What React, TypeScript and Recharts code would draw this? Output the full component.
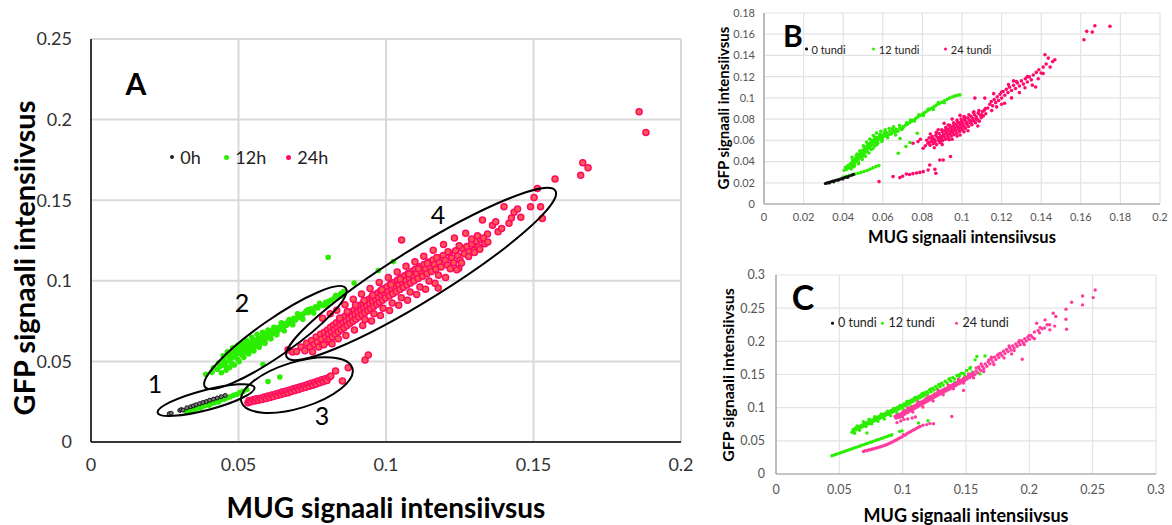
import React from 'react';
import { ScatterChart, Scatter, XAxis, YAxis, CartesianGrid } from 'recharts';

// ---------------- Panel A data ----------------
const A_0h = [[0.0265,0.0175],[0.0272,0.0178],[0.0301,0.0196],[0.0306,0.0201],[0.0312,0.0198],[0.0325,0.0212],[0.0338,0.0219],[0.0347,0.0224],[0.0356,0.0231],[0.0368,0.0238],[0.0379,0.0245],[0.0391,0.0251],[0.0402,0.0259],[0.0415,0.0266],[0.0428,0.0273],[0.0441,0.0281],[0.0455,0.0289]];

const A_12h = [[0.0325,0.0186],[0.0333,0.0195],[0.0341,0.0192],[0.0348,0.0203],[0.0356,0.0206],[0.0362,0.0214],[0.0371,0.0211],[0.0378,0.0222],[0.0386,0.0226],[0.0394,0.0232],[0.0401,0.0229],[0.0409,0.0241],[0.0418,0.0244],[0.0426,0.0252],[0.0433,0.0249],[0.0441,0.0262],[0.0452,0.0266],[0.0461,0.0275],[0.0472,0.0281],[0.0483,0.029],[0.0494,0.0296],[0.0505,0.0306],[0.0516,0.0314],[0.0528,0.0325],
[0.041,0.0432],[0.0415,0.0461],[0.0428,0.0452],[0.0433,0.0489],[0.0437,0.0468],[0.0446,0.0478],[0.0449,0.0512],[0.0453,0.0495],[0.0457,0.047],[0.0465,0.0531],[0.0468,0.0502],[0.0471,0.0548],[0.0474,0.0519],[0.0477,0.049],[0.0484,0.056],[0.0487,0.0528],[0.0491,0.0545],[0.0494,0.0572],[0.0497,0.0515],[0.0503,0.0551],[0.0506,0.0584],[0.0509,0.0566],[0.0513,0.0538],[0.0516,0.0592],[0.0519,0.056],[0.0523,0.0575],[0.0526,0.0604],[0.0529,0.0556],[0.0533,0.0588],[0.0537,0.0612],[0.0539,0.057],[0.0543,0.0596],[0.0547,0.0625],[0.0551,0.0581],[0.0554,0.061],[0.0558,0.0633],[0.0561,0.0598],[0.0565,0.0617],[0.0569,0.0644],[0.0573,0.0609],[0.0577,0.0633],[0.0581,0.0653],[0.0585,0.0628],[0.0589,0.066],[0.0593,0.0641],[0.0597,0.0672],[0.0603,0.0656],[0.0607,0.0684],[0.0612,0.0667],[0.0616,0.0693],[0.0622,0.0679],[0.0627,0.0704],[0.0632,0.0688],[0.0636,0.0712],[0.0642,0.0701],[0.0647,0.0726],[0.0652,0.0709],[0.0657,0.0733],[0.0663,0.0724],[0.0668,0.0745],[0.0674,0.0736],[0.0681,0.0748],[0.0687,0.0768],[0.0693,0.0757],[0.0701,0.0773],[0.0707,0.0791],[0.0714,0.0779],[0.0722,0.0797],[0.0729,0.0812],[0.0737,0.0803],[0.0745,0.0826],[0.0752,0.0818],[0.0761,0.0839],[0.0769,0.0832],[0.0778,0.0851],[0.0787,0.0847],[0.0796,0.0866],[0.0806,0.0873],[0.0815,0.0881],[0.0826,0.0895],[0.0838,0.0907],[0.0847,0.0921],[0.0856,0.0934],
[0.0804,0.1146],[0.0892,0.0986],[0.0974,0.1064],[0.1025,0.1119],[0.06,0.0375],[0.064,0.0403],[0.0583,0.048],[0.0389,0.042]];

const A_12h_spread = [[0.0442,0.043],[0.0448,0.0535],[0.0458,0.0445],[0.0462,0.056],[0.047,0.0462],[0.048,0.0585],[0.0486,0.0478],[0.0498,0.06],[0.0502,0.05],[0.0512,0.0615],[0.0518,0.0525],[0.0528,0.063],[0.0535,0.0548],[0.0545,0.065],[0.0552,0.0565],[0.0563,0.0668],[0.057,0.0588],[0.0582,0.068],[0.059,0.0612],[0.06,0.0695],[0.061,0.064],[0.062,0.0712],[0.063,0.0665],[0.0645,0.074],[0.0655,0.069],[0.0672,0.076],[0.0684,0.0728],[0.07,0.0795],[0.0718,0.0762],[0.0735,0.082],[0.0755,0.08],[0.0775,0.086],[0.08,0.085],[0.083,0.091],[0.085,0.0905]];

const A_24h = [[0.0532,0.0243],[0.0536,0.0258],[0.0542,0.0249],[0.0549,0.0262],[0.0555,0.0254],[0.0561,0.0268],[0.0568,0.0259],[0.0574,0.0272],[0.058,0.0264],[0.0587,0.0279],[0.0594,0.027],[0.06,0.0285],[0.0607,0.0276],[0.0613,0.0291],[0.0619,0.0283],[0.0626,0.0298],[0.0632,0.0288],[0.0638,0.0304],[0.0644,0.0294],[0.065,0.0311],[0.0656,0.0301],[0.0662,0.0317],[0.0668,0.0306],[0.0674,0.0322],[0.068,0.0313],[0.0686,0.033],[0.0692,0.0319],[0.0698,0.0336],[0.0704,0.0326],[0.071,0.0343],[0.0716,0.0333],[0.0722,0.0349],[0.0728,0.0339],[0.0734,0.0357],[0.074,0.0346],[0.0746,0.0364],[0.0752,0.0352],[0.0758,0.037],[0.0764,0.036],[0.077,0.0378],[0.0776,0.0367],[0.0782,0.0386],[0.0788,0.0375],[0.0794,0.0393],[0.08,0.0381],[0.0807,0.0402],[0.0813,0.041],[0.0829,0.044],[0.0872,0.0461],[0.0852,0.0379],[0.0929,0.0508],[0.094,0.0539],
[0.0668,0.0572],[0.0683,0.0558],[0.0697,0.0561],[0.0712,0.059],[0.0725,0.0566],[0.0731,0.0612],[0.0742,0.0588],[0.0748,0.063],[0.0751,0.056],[0.0757,0.0605],[0.0763,0.0652],[0.0768,0.0621],[0.0772,0.059],[0.0778,0.0668],[0.0781,0.0637],[0.0786,0.0605],[0.0791,0.0681],[0.0795,0.0652],[0.0798,0.062],
[0.0802,0.0695],[0.0805,0.0668],[0.0808,0.0638],[0.0812,0.0712],[0.0815,0.0683],[0.0818,0.0652],[0.0822,0.0725],[0.0825,0.0697],[0.0828,0.0668],[0.0832,0.074],[0.0835,0.0711],[0.0838,0.0683],[0.0842,0.0752],[0.0845,0.0724],[0.0848,0.0697],[0.0852,0.0768],[0.0855,0.0739],[0.0858,0.0709],[0.0862,0.0781],[0.0865,0.0751],[0.0868,0.0722],[0.0872,0.0795],[0.0875,0.0765],[0.0878,0.0737],[0.0882,0.0806],[0.0885,0.0778],[0.0888,0.0749],[0.0892,0.0819],[0.0895,0.0791],[0.0898,0.0762],
[0.0902,0.0834],[0.0905,0.0805],[0.0908,0.0776],[0.0912,0.0847],[0.0915,0.0818],[0.0918,0.0789],[0.0922,0.0861],[0.0925,0.0832],[0.0928,0.0802],[0.0932,0.0873],[0.0935,0.0844],[0.0938,0.0815],[0.0942,0.0886],[0.0945,0.0857],[0.0948,0.0828],[0.0952,0.0899],[0.0955,0.087],[0.0958,0.0841],[0.0962,0.0913],[0.0965,0.0884],[0.0968,0.0853],[0.0972,0.0925],[0.0975,0.0896],[0.0978,0.0867],[0.0982,0.0938],[0.0985,0.0909],[0.0988,0.088],[0.0992,0.0951],[0.0995,0.0921],[0.0998,0.0893],
[0.1003,0.0962],[0.1007,0.0934],[0.1011,0.0905],[0.1015,0.0978],[0.1019,0.0948],[0.1023,0.0919],[0.1027,0.099],[0.1031,0.0962],[0.1035,0.0932],[0.1039,0.1005],[0.1043,0.0975],[0.1047,0.0946],[0.1051,0.1019],[0.1055,0.0989],[0.1059,0.096],[0.1063,0.1031],[0.1067,0.1002],[0.1071,0.0974],[0.1075,0.1046],[0.1079,0.1016],[0.1083,0.0987],[0.1087,0.1058],[0.1091,0.103],[0.1095,0.1001],[0.1099,0.1071],
[0.1104,0.1043],[0.1109,0.1015],[0.1114,0.1087],[0.1119,0.1058],[0.1124,0.1029],[0.1129,0.1101],[0.1134,0.1072],[0.1139,0.1044],[0.1144,0.1116],[0.1149,0.1086],[0.1154,0.1057],[0.1159,0.1129],[0.1164,0.11],[0.1169,0.1072],[0.1175,0.1143],[0.1177,0.0955],[0.1181,0.1113],[0.1187,0.1085],[0.1194,0.1157],
[0.1201,0.1127],[0.1208,0.1098],[0.1215,0.1172],[0.1222,0.1141],[0.1229,0.1112],[0.1236,0.1186],[0.1243,0.1155],[0.1247,0.1078],[0.1251,0.1127],[0.1258,0.12],[0.1266,0.1168],[0.1274,0.1213],[0.1282,0.1182],[0.129,0.1228],[0.1298,0.119],[0.1306,0.1245],[0.1313,0.1212],[0.1321,0.1258],
[0.1327,0.1377],[0.1335,0.123],[0.1344,0.129],[0.1361,0.1344],[0.1372,0.1366],[0.138,0.1305],[0.1392,0.1325],[0.14,0.1459],[0.1417,0.1357],[0.1425,0.139],[0.1434,0.1425],[0.1446,0.1446],[0.1457,0.1394],[0.149,0.1459],[0.1502,0.1517],[0.1513,0.1572],[0.1524,0.1459],[0.153,0.1387],
[0.1053,0.1253],[0.1573,0.1632],[0.166,0.1655],[0.1667,0.1733],[0.1685,0.1702],[0.1858,0.2049],[0.1881,0.192]];

const A_24h_spread = [[0.0785,0.0767],[0.0789,0.0603],[0.0811,0.0795],[0.0817,0.061],[0.0833,0.0818],[0.0838,0.064],[0.0843,0.077],[0.0861,0.0852],[0.0864,0.0661],[0.0869,0.081],[0.0889,0.0886],[0.0893,0.0695],[0.0897,0.085],[0.0917,0.0918],[0.0921,0.0722],[0.0926,0.0878],[0.0929,0.076],[0.0946,0.0952],[0.0951,0.075],[0.0955,0.091],[0.0959,0.0795],[0.0977,0.099],[0.0981,0.0785],[0.0986,0.0945],[0.099,0.083],[0.1008,0.102],[0.1012,0.0815],[0.1017,0.0975],[0.1021,0.0862],[0.1038,0.1055],[0.1043,0.0848],[0.1048,0.101],[0.1052,0.0895],[0.1068,0.109],[0.1073,0.088],[0.1078,0.1042],[0.1082,0.093],[0.1098,0.1118],[0.1104,0.0915],[0.111,0.1075],[0.1115,0.0962],[0.1128,0.1152],[0.1134,0.0948],[0.114,0.1108],[0.1146,0.0998],[0.116,0.119],[0.1166,0.0985],[0.1172,0.1145],[0.1178,0.1035],[0.1195,0.1225],[0.1202,0.102],[0.121,0.118],[0.1218,0.1075],[0.1232,0.1265],[0.124,0.1068],[0.1248,0.1218],[0.1256,0.111],[0.127,0.1295],[0.128,0.115],[0.129,0.126],[0.13,0.1175],[0.131,0.128],[0.1318,0.1195],[0.133,0.1265],[0.1345,0.124]];

const A_ellipseCenters = [[0.039,0.026],[0.0625,0.0648],[0.0698,0.0353],[0.1119,0.1042]];
const A_groupLabels = ['1','2','3','4'];
const A_groupLabelAt = [[0.0217,0.0366],[0.0512,0.0868],[0.0783,0.0167],[0.1176,0.1414]];

// ---------------- Panel B data ----------------
const B_0 = [[0.031,0.0193],[0.0316,0.0197],[0.0322,0.02],[0.0328,0.0204],[0.033,0.0198],[0.0335,0.0207],[0.0341,0.0212],[0.0348,0.0215],[0.0352,0.0209],[0.0355,0.0219],[0.0362,0.0223],[0.0369,0.0226],[0.0375,0.0224],[0.0377,0.0231],[0.0385,0.0235],[0.0393,0.024],[0.0398,0.0236],[0.0401,0.0245],[0.041,0.0251],[0.042,0.0257],[0.0422,0.025],[0.0431,0.0264],[0.0443,0.0272],[0.0452,0.0279]];

const B_12 = [[0.0405,0.0318],[0.0412,0.0345],[0.0418,0.0328],[0.0424,0.0362],[0.043,0.0341],[0.0436,0.0379],[0.0441,0.0357],[0.0446,0.0395],[0.045,0.0372],[0.0455,0.041],[0.0459,0.0388],[0.0463,0.0428],[0.0467,0.0405],[0.0471,0.0445],[0.0475,0.0421],[0.0479,0.0462],[0.0483,0.0438],[0.0487,0.0478],[0.0491,0.0455],[0.0495,0.0495],[0.0499,0.047],[0.0503,0.0511],[0.0507,0.0486],[0.0511,0.0527],[0.0515,0.0501],[0.0519,0.0543],[0.0523,0.0518],[0.0527,0.0558],[0.0531,0.0533],[0.0535,0.0572],[0.0539,0.0549],[0.0544,0.0586],[0.0548,0.0563],[0.0553,0.06],[0.0557,0.0578],[0.0562,0.0613],[0.0567,0.0591],[0.0572,0.0626],[0.0577,0.0604],[0.0583,0.0638],[0.0588,0.0617],[0.0594,0.0649],[0.06,0.063],[0.0607,0.066],[0.0614,0.0641],[0.0621,0.0672],[0.0628,0.0653],[0.0636,0.0683],[0.0644,0.0664],[0.0652,0.0694],[0.066,0.0676],[0.0668,0.0705],[0.0677,0.0689],[0.0686,0.0716],[0.0695,0.0702],[0.0704,0.0729],[0.0714,0.0741],[0.0724,0.0752],[0.0734,0.0765],[0.0744,0.0778],[0.0755,0.0792],[0.0766,0.0805],[0.0777,0.0819],[0.0788,0.0833],[0.08,0.0848],[0.0812,0.0862],[0.0824,0.0877],[0.0836,0.0891],[0.0848,0.0905],[0.086,0.0919],[0.0872,0.0932],[0.0885,0.0946],[0.0898,0.0959],[0.0911,0.0972],[0.0924,0.0985],[0.0937,0.0998],[0.095,0.1009],[0.0963,0.1017],[0.0976,0.1024],[0.0989,0.1028],
[0.0445,0.044],[0.0452,0.035],[0.047,0.047],[0.0478,0.038],[0.049,0.05],[0.0496,0.042],[0.0508,0.0535],[0.0512,0.045],[0.0525,0.057],[0.053,0.048],[0.0542,0.06],[0.055,0.052],[0.056,0.063],[0.057,0.056],[0.0585,0.0655],[0.0595,0.059],[0.061,0.0675],[0.0625,0.0625],[0.065,0.071],[0.0665,0.065],
[0.04,0.0255],[0.0415,0.0262],[0.043,0.0268],[0.0445,0.0276],[0.046,0.0283],[0.0475,0.029],[0.049,0.0298],[0.0505,0.0306],[0.052,0.0316],[0.0535,0.0327],[0.055,0.034],[0.0565,0.0352],[0.058,0.0362],
[0.0678,0.0478],[0.0717,0.0542],[0.0737,0.0579],[0.0687,0.0617],[0.0774,0.0667]];

const B_12_spread = [[0.044,0.033],[0.0448,0.0415],[0.0458,0.036],[0.0466,0.0455],[0.0476,0.04],[0.0484,0.05],[0.0494,0.044],[0.0502,0.0548],[0.0506,0.046],[0.0518,0.0585],[0.0522,0.049],[0.0534,0.0612],[0.054,0.0515],[0.0552,0.0645],[0.0558,0.0545],[0.0568,0.0668],[0.0575,0.0575],[0.059,0.0685],[0.0598,0.0605],[0.0612,0.07],[0.062,0.064],[0.0632,0.0712],[0.064,0.066],[0.0655,0.0728],[0.067,0.0685],[0.0685,0.074],[0.07,0.0712],[0.072,0.0765],[0.074,0.079],[0.076,0.0782],[0.0782,0.084],[0.0805,0.0835],[0.083,0.0895],[0.0855,0.089],[0.088,0.0955],[0.091,0.0955]];

const B_24 = [[0.0815,0.0548],[0.0822,0.0601],[0.0828,0.0572],[0.0834,0.0623],[0.0839,0.0554],[0.0845,0.059],[0.085,0.0635],[0.0855,0.0568],[0.0859,0.0612],[0.0864,0.0585],[0.0868,0.0647],[0.0872,0.056],[0.0876,0.0628],[0.088,0.06],[0.0884,0.0664],[0.0888,0.0579],[0.0892,0.0641],[0.0896,0.0617],[0.09,0.0681],[0.0903,0.0598],[0.0907,0.0658],[0.0911,0.0632],[0.0914,0.0694],[0.0918,0.0611],[0.0921,0.0671],[0.0925,0.0645],[0.0928,0.0707],[0.0932,0.0625],[0.0935,0.0688],[0.0939,0.066],[0.0942,0.0722],[0.0946,0.064],[0.0949,0.07],[0.0953,0.0675],[0.0956,0.0737],[0.096,0.0654],[0.0963,0.0716],[0.0967,0.069],[0.097,0.0751],[0.0974,0.0668],[0.0977,0.0731],[0.0981,0.0705],[0.0984,0.0766],[0.0988,0.0684],[0.0991,0.0746],[0.0995,0.0719],[0.0998,0.0781],[0.1002,0.0699],[0.1005,0.076],[0.1009,0.0734],[0.1013,0.0795],[0.1017,0.0715],[0.1021,0.0775],[0.1025,0.075],[0.1029,0.0811],[0.1033,0.0731],[0.1037,0.079],[0.1041,0.0766],[0.1045,0.0826],[0.105,0.0748],[0.1054,0.0806],[0.1058,0.0782],[0.1063,0.0841],[0.1068,0.0765],[0.1072,0.0822],[0.1077,0.0798],[0.1082,0.0856],[0.1087,0.0781],[0.1092,0.0838],[0.1097,0.0813],[0.1103,0.0871],[0.1108,0.083],[0.1114,0.0885],[0.112,0.085],
[0.088,0.07],[0.09,0.056],[0.093,0.0745],[0.095,0.061],[0.0975,0.079],[0.099,0.065],[0.101,0.0825],[0.103,0.069],[0.106,0.087],[0.108,0.0735],[0.086,0.053],[0.084,0.066],[0.1,0.0765],[0.096,0.072],[0.092,0.068],[0.1065,0.0998],[0.1115,0.0998],
[0.113,0.0905],[0.114,0.094],[0.1148,0.0965],[0.1155,0.0925],[0.1163,0.0985],[0.117,0.0955],[0.1178,0.101],[0.1185,0.0975],[0.1192,0.1035],[0.12,0.0998],[0.1208,0.106],[0.1216,0.1025],[0.1224,0.1082],[0.1232,0.105],[0.124,0.11],[0.125,0.107],[0.126,0.1118],[0.127,0.1088],[0.128,0.114],[0.129,0.1112],[0.13,0.116],[0.131,0.113],[0.132,0.118],[0.133,0.115],[0.134,0.1198],[0.135,0.117],[0.136,0.1215],[0.1372,0.1102],[0.1375,0.124],[0.1388,0.1265],[0.14,0.1235],[0.141,0.129],[0.1419,0.1407],[0.1425,0.132],[0.1436,0.1375],[0.1445,0.129],[0.1458,0.1342],[0.1469,0.1359],
[0.1616,0.1548],[0.163,0.1627],[0.1658,0.162],[0.1671,0.168],[0.1747,0.1674],
[0.0581,0.0211],[0.0652,0.0258],[0.0686,0.0249],[0.07,0.0262],[0.0719,0.0283],[0.0735,0.0278],[0.0752,0.0286],[0.077,0.0292],[0.0787,0.0298],[0.0804,0.0305],[0.0829,0.0321],[0.0837,0.0368],[0.0863,0.0327],[0.0868,0.029],[0.0888,0.0415],[0.0905,0.0415],[0.0942,0.0447],
[0.0753,0.0573],[0.0778,0.0588],[0.0804,0.0525],[0.079,0.061]];

const B_24_spread = [[0.0835,0.058],[0.0848,0.0618],[0.0862,0.06],[0.087,0.0675],[0.0885,0.0625],[0.0898,0.07],[0.0905,0.064],[0.0918,0.072],[0.0926,0.066],[0.0938,0.0742],[0.0944,0.0685],[0.0958,0.0765],[0.0965,0.07],[0.0979,0.0772],[0.0986,0.0715],[0.0996,0.08],[0.1004,0.0735],[0.1015,0.0818],[0.1024,0.076],[0.1035,0.084],[0.1046,0.078],[0.1058,0.0862],[0.107,0.08],[0.1085,0.088],[0.11,0.084],[0.1118,0.09],[0.0895,0.059],[0.0935,0.0605],[0.0975,0.064],[0.101,0.068],[0.091,0.076],[0.095,0.08],[0.099,0.0835],
[0.115,0.088],[0.1175,0.0915],[0.12,0.1055],[0.1215,0.095],[0.1235,0.1125],[0.125,0.1],[0.1275,0.1155],[0.129,0.105],[0.1318,0.1095],[0.133,0.12],[0.1355,0.112],[0.1385,0.118],[0.141,0.123],[0.12,0.094],[0.116,0.104],[0.126,0.116]];

// ---------------- Panel C data ----------------
const C_12 = [[0.06,0.063],[0.0608,0.0668],[0.0617,0.0655],[0.0625,0.069],[0.0633,0.0668],[0.0642,0.0705],[0.065,0.0682],[0.0658,0.0718],[0.0667,0.07],[0.0675,0.0735],[0.0683,0.0712],[0.0692,0.0752],[0.07,0.0728],[0.0708,0.0768],[0.0717,0.0745],[0.0725,0.0785],[0.0733,0.076],[0.0742,0.08],[0.075,0.0776],[0.0758,0.0815],[0.0767,0.079],[0.0775,0.0832],[0.0783,0.0806],[0.0792,0.0848],[0.08,0.0822],[0.0808,0.0862],[0.0817,0.0838],[0.0825,0.0878],[0.0833,0.0852],[0.0842,0.0893],[0.085,0.0868],[0.0858,0.0908],[0.0867,0.0884],[0.0875,0.0925],[0.0883,0.09],[0.0892,0.094],[0.09,0.0915],[0.0908,0.0957],[0.0917,0.0932],[0.0925,0.0972],[0.0933,0.0947],[0.0942,0.0988],[0.095,0.0962],[0.0958,0.1004],[0.0967,0.0978],[0.0975,0.102],[0.0983,0.0995],[0.0992,0.1035],[0.1,0.101],[0.101,0.1055],[0.102,0.103],[0.103,0.1075],[0.104,0.105],[0.105,0.1096],[0.106,0.107],[0.107,0.1117],[0.108,0.109],[0.109,0.1138],[0.11,0.111],[0.111,0.1158],[0.112,0.1132],[0.113,0.1178],[0.114,0.1152],[0.115,0.12],[0.116,0.1173],[0.117,0.122],[0.118,0.1195],[0.119,0.1242],[0.12,0.1215],[0.1212,0.1268],[0.1224,0.124],[0.1236,0.1292],[0.1248,0.1265],[0.126,0.1318],[0.1272,0.129],[0.1284,0.1345],[0.1296,0.1315],[0.1308,0.137],[0.132,0.134],[0.1335,0.1398],[0.135,0.1372],[0.1365,0.1428],[0.138,0.1402],[0.1395,0.1455],[0.141,0.1432],[0.1428,0.1485],[0.1446,0.1468],[0.1465,0.152],[0.1485,0.1515],[0.1505,0.156],[0.153,0.159],[0.1572,0.1721],[0.1586,0.1771],[0.1611,0.151],[0.165,0.178],
[0.0441,0.0275],[0.0455,0.0284],[0.047,0.0293],[0.0485,0.0304],[0.05,0.0313],[0.0515,0.0324],[0.053,0.0333],[0.0545,0.0344],[0.056,0.0354],[0.0575,0.0363],[0.059,0.0375],[0.0605,0.0383],[0.062,0.0395],[0.0635,0.0402],[0.065,0.0416],[0.0665,0.0423],[0.068,0.0436],[0.0695,0.0443],[0.071,0.0456],[0.0725,0.0462],[0.074,0.0477],[0.0755,0.0482],[0.077,0.0496],[0.0785,0.0503],[0.08,0.0516],[0.0815,0.0522],[0.083,0.0537],[0.0845,0.0543],[0.086,0.0556],[0.0875,0.0563],[0.089,0.0577],[0.0905,0.0582],[0.0915,0.0592],
[0.0976,0.0642],[0.0995,0.065],[0.1125,0.0768],[0.12,0.0803],[0.0718,0.0617]];

const C_12_spread = [[0.062,0.0615],[0.064,0.0725],[0.066,0.066],[0.069,0.079],[0.071,0.0715],[0.0735,0.0825],[0.0755,0.0755],[0.078,0.0865],[0.0805,0.0795],[0.083,0.0905],[0.0855,0.083],[0.088,0.0945],[0.0905,0.088],[0.093,0.099],[0.0955,0.092],[0.098,0.1035],[0.1005,0.0968],[0.1035,0.1095],[0.1065,0.102],[0.1095,0.115],[0.1125,0.1085],[0.1155,0.1215],[0.1185,0.114],[0.122,0.128],[0.125,0.1205],[0.129,0.135],[0.133,0.128],[0.137,0.144],[0.141,0.138],[0.145,0.15],[0.149,0.148],[0.1535,0.1605],[0.155,0.154]];

const C_24 = [[0.094,0.087],[0.0948,0.0842],[0.0955,0.0885],[0.0962,0.085],[0.097,0.0895],[0.0978,0.086],[0.0985,0.0905],[0.0992,0.0878],[0.1,0.0932],[0.1006,0.0898],[0.1012,0.094],[0.1018,0.0905],[0.1024,0.0958],[0.103,0.0922],[0.1036,0.0965],[0.1042,0.093],[0.1048,0.0982],[0.1054,0.0948],[0.106,0.099],[0.1066,0.0958],[0.1072,0.1005],[0.1078,0.0972],[0.1084,0.1018],[0.109,0.0985],[0.1096,0.103],[0.1102,0.0998],[0.1108,0.1043],[0.1114,0.101],[0.112,0.1058],[0.1126,0.1024],[0.1132,0.1068],[0.1138,0.1038],[0.1144,0.1082],[0.115,0.105],[0.1156,0.1095],[0.1162,0.1062],[0.1168,0.1108],[0.1174,0.1077],[0.118,0.1121],[0.1186,0.109],[0.1192,0.1133],[0.1198,0.1102],[0.1204,0.1147],[0.121,0.1116],[0.1216,0.116],[0.1222,0.1128],[0.1228,0.1173],[0.1234,0.114],[0.124,0.1186],[0.1246,0.1154],[0.1252,0.1198],[0.1258,0.1167],[0.1264,0.1211],[0.127,0.118],[0.1276,0.1224],[0.1282,0.1193],[0.1288,0.1238],[0.1294,0.1205],[0.13,0.125],[0.1308,0.122],[0.1316,0.1266],[0.1324,0.1235],[0.1332,0.1281],[0.134,0.125],[0.1348,0.1296],[0.1356,0.1266],[0.1364,0.1312],[0.1372,0.1282],[0.138,0.133],[0.1388,0.13],[0.1396,0.1346],[0.1404,0.1318],[0.1412,0.1362],[0.142,0.1335],[0.1428,0.138],[0.1436,0.1352],[0.1444,0.1398],[0.1452,0.1368],[0.146,0.1415],[0.147,0.139],[0.148,0.144],[0.149,0.141],[0.15,0.146],[0.151,0.1432],[0.152,0.1482],[0.153,0.1455],[0.154,0.1505],[0.155,0.1478],[0.156,0.1528],[0.157,0.15],[0.158,0.1555],[0.1592,0.1525],[0.1604,0.1585],[0.1616,0.156],[0.1628,0.1625],[0.164,0.159],[0.1652,0.166],[0.1664,0.1625],[0.1676,0.169],[0.1688,0.166],[0.17,0.1728],[0.1712,0.169],[0.1724,0.176],[0.1736,0.1725],[0.1748,0.179],[0.176,0.1755],[0.1772,0.182],[0.1784,0.1785],[0.1796,0.185],[0.1808,0.1815],[0.182,0.1878],[0.1832,0.1845],[0.1844,0.1905],[0.1856,0.187],[0.1868,0.1932],[0.188,0.1898],[0.1892,0.196],[0.1904,0.1925],[0.1916,0.1985],[0.1928,0.195],[0.194,0.201],[0.1952,0.1978],[0.1964,0.204],[0.1976,0.2005],[0.1988,0.2065],[0.2,0.203],
[0.2012,0.209],[0.2025,0.206],[0.204,0.214],[0.2058,0.2273],[0.207,0.2165],[0.2085,0.221],[0.21,0.219],[0.2124,0.2323],[0.214,0.225],[0.2162,0.2173],[0.2189,0.2424],[0.2209,0.2374],[0.2289,0.2484],[0.2289,0.2334],[0.2294,0.2183],[0.2334,0.2589],[0.242,0.2684],[0.242,0.2549],[0.2504,0.2659],[0.252,0.2774],
[0.1944,0.1731],[0.1388,0.0867],[0.148,0.126],
[0.0955,0.0775],[0.0985,0.08],[0.101,0.082],[0.104,0.083],[0.1075,0.0845],[0.11,0.086],
[0.0691,0.034],[0.0705,0.0352],[0.0718,0.035],[0.073,0.0362],[0.0745,0.0365],[0.0758,0.0375],[0.0772,0.038],[0.0786,0.039],[0.08,0.0395],[0.0813,0.0405],[0.0826,0.041],[0.084,0.042],[0.0852,0.0428],[0.0865,0.0438],[0.0878,0.0445],[0.089,0.0458],[0.0902,0.0468],[0.0915,0.048],[0.0928,0.0492],[0.094,0.0505],[0.0954,0.0516],[0.0968,0.0535],[0.0982,0.0548],[0.0996,0.056],[0.1006,0.0592],[0.102,0.0585],[0.1035,0.061],[0.105,0.0625],[0.1065,0.064],[0.108,0.066],[0.1095,0.0672],[0.111,0.069],[0.1125,0.0705],[0.1138,0.0717],[0.116,0.0735],[0.119,0.0745],[0.1215,0.076],[0.1243,0.0757]];

const C_24_spread = [[0.1,0.086],[0.104,0.1],[0.108,0.0935],[0.112,0.1085],[0.116,0.101],[0.12,0.1165],[0.124,0.11],[0.128,0.126],[0.132,0.1195],[0.136,0.134],[0.14,0.1285],[0.144,0.1425],[0.148,0.137],[0.152,0.151],[0.156,0.145],[0.16,0.1615],[0.164,0.1545],[0.168,0.172],[0.172,0.165],[0.176,0.181],[0.18,0.175],[0.184,0.193],[0.188,0.186],[0.192,0.201],[0.196,0.195],[0.2,0.209],[0.204,0.204],[0.208,0.213],[0.212,0.22],[0.216,0.225],[0.22,0.223],[0.186,0.181],[0.17,0.176],[0.158,0.16],[0.162,0.166]];

// ---------------- ticks & texts ----------------
const A_xTicks = [0, 0.05, 0.1, 0.15, 0.2];
const A_yTicks = [0, 0.05, 0.1, 0.15, 0.2, 0.25];
const B_xTicks = [0, 0.02, 0.04, 0.06, 0.08, 0.1, 0.12, 0.14, 0.16, 0.18, 0.2];
const B_yTicks = [0, 0.02, 0.04, 0.06, 0.08, 0.1, 0.12, 0.14, 0.16, 0.18];
const C_xTicks = [0, 0.05, 0.1, 0.15, 0.2, 0.25, 0.3];
const C_yTicks = [0, 0.05, 0.1, 0.15, 0.2, 0.25, 0.3];

const A_legend = ['0h', '12h', '24h'];
const BC_legend = ['0 tundi', '12 tundi', '24 tundi'];
const X_TITLE = 'MUG signaali intensiivsus';
const Y_TITLE = 'GFP signaali intensiivsus';

// ---------------- helpers ----------------
const toPts = (a: number[][]) => a.map(([x, y]) => ({ x, y }));

const dot = (r: number, fill: string, stroke = 'none', sw = 0) => (p: any) => {
  if (p == null || p.cx == null || p.cy == null) return <g />;
  return <circle cx={p.cx} cy={p.cy} r={r} fill={fill} stroke={stroke} strokeWidth={sw} />;
};

// ellipse geometry in pixels (style, not data)
const ELLIPSE_GEOM = [
  { rx: 50, ry: 10, angle: -14.6 },
  { rx: 86, ry: 18, angle: -35 },
  { rx: 58, ry: 23, angle: -17 },
  { rx: 158, ry: 26, angle: -31.8 },
];

const ellipseShape = (p: any) => {
  if (p == null || p.cx == null) return <g />;
  const g = ELLIPSE_GEOM[p.payload.k];
  return (
    <ellipse cx={p.cx} cy={p.cy} rx={g.rx} ry={g.ry} fill="none" stroke="#000" strokeWidth={2}
      transform={`rotate(${g.angle} ${p.cx} ${p.cy})`} />
  );
};

const labelShape = (p: any) => {
  if (p == null || p.cx == null) return <g />;
  return (
    <text x={p.cx} y={p.cy} textAnchor="middle" dominantBaseline="central"
      fontFamily="Lato, sans-serif" fontSize={25} fill="#000">{p.payload.label}</text>
  );
};

const FONT = 'Lato, "Open Sans", sans-serif';

const T = ({ x, y, size, bold, rot = 0, color = '#000', children }: any) => (
  <div style={{
    position: 'absolute', left: x, top: y, transform: `translate(-50%, -50%) rotate(${rot}deg)`,
    whiteSpace: 'nowrap', fontFamily: FONT, fontSize: size, fontWeight: bold ? 700 : 400,
    lineHeight: 1, color,
  }}>{children}</div>
);

const LegendItem = ({ x, y, color, r, text, size }: any) => (
  <div style={{ position: 'absolute', left: x, top: y, transform: 'translateY(-50%)', display: 'flex', alignItems: 'center', fontFamily: FONT, fontSize: size, lineHeight: 1, color: '#222', whiteSpace: 'nowrap' }}>
    <span style={{ display: 'inline-block', width: r * 2, height: r * 2, borderRadius: '50%', background: color, marginRight: size * 0.35 }} />
    {text}
  </div>
);

const PINK_A = '#ff0a64';
const GREEN = '#2bee00';
const PINK_B = '#ff0a6c';
const PINK_C = '#ff3c9e';

export default function App() {
  const ellipseData = A_ellipseCenters.map(([x, y], k) => ({ x, y, k }));
  const labelData = A_groupLabelAt.map(([x, y], k) => ({ x, y, label: A_groupLabels[k] }));

  return (
    <div style={{ position: 'absolute', left: 0, top: 0, width: 1172, height: 525, background: '#fff', overflow: 'hidden' }}>
      {/* Panel A */}
      <div style={{ position: 'absolute', left: 0, top: 0 }}>
        <ScatterChart width={700} height={525} margin={{ top: 39, right: 19, left: 31, bottom: 53 }}>
          <CartesianGrid stroke="#d9d9d9" strokeWidth={2} />
          <XAxis type="number" dataKey="x" domain={[0, 0.2]} ticks={A_xTicks} interval={0} height={30}
            axisLine={{ stroke: '#000', strokeWidth: 1.5 }} tickLine={false} tickSize={0} tickMargin={16}
            tick={{ fontSize: 18, fill: '#333', fontFamily: FONT }} />
          <YAxis type="number" dataKey="y" domain={[0, 0.25]} ticks={A_yTicks} interval={0} width={60}
            axisLine={{ stroke: '#000', strokeWidth: 1.5 }} tickLine={false} tickSize={0} tickMargin={19}
            tick={{ fontSize: 18, fill: '#333', fontFamily: FONT }} />
          <Scatter data={toPts([...A_12h, ...A_12h_spread])} shape={dot(2.8, GREEN)} isAnimationActive={false} />
          <Scatter data={toPts([...A_24h, ...A_24h_spread])} shape={dot(3, '#ff5a50', PINK_A, 1.5)} isAnimationActive={false} />
          <Scatter data={toPts(A_0h)} shape={dot(2, '#777', '#111', 1)} isAnimationActive={false} />
          <Scatter data={ellipseData} shape={ellipseShape} isAnimationActive={false} />
          <Scatter data={labelData} shape={labelShape} isAnimationActive={false} />
        </ScatterChart>
      </div>
      <T x={23} y={258} size={29} bold rot={-90}>{Y_TITLE}</T>
      <T x={386} y={507} size={28} bold>{X_TITLE}</T>
      <T x={136} y={83} size={30} bold>A</T>
      <LegendItem x={170} y={157} color="#222" r={2} text={A_legend[0]} size={18} />
      <LegendItem x={224} y={157} color={GREEN} r={2.5} text={A_legend[1]} size={18} />
      <LegendItem x={286} y={157} color={PINK_A} r={2.5} text={A_legend[2]} size={18} />

      {/* Panel B */}
      <div style={{ position: 'absolute', left: 700, top: 0 }}>
        <ScatterChart width={472} height={260} margin={{ top: 13, right: 12, left: 24, bottom: 36 }}>
          <CartesianGrid stroke="#e3e3e3" strokeWidth={1.2} />
          <XAxis type="number" dataKey="x" domain={[0, 0.2]} ticks={B_xTicks} interval={0} height={20}
            axisLine={{ stroke: '#9a9a9a', strokeWidth: 1.2 }} tickLine={false} tickSize={0} tickMargin={9}
            tick={{ fontSize: 11, fill: '#555', fontFamily: FONT }} />
          <YAxis type="number" dataKey="y" domain={[0, 0.18]} ticks={B_yTicks} interval={0} width={40}
            axisLine={{ stroke: '#9a9a9a', strokeWidth: 1.2 }} tickLine={false} tickSize={0} tickMargin={9}
            tick={{ fontSize: 11, fill: '#555', fontFamily: FONT }} />
          <Scatter data={toPts([...B_12, ...B_12_spread])} shape={dot(1.8, GREEN)} isAnimationActive={false} />
          <Scatter data={toPts([...B_24, ...B_24_spread])} shape={dot(1.8, PINK_B)} isAnimationActive={false} />
          <Scatter data={toPts(B_0)} shape={dot(1.6, '#111')} isAnimationActive={false} />
        </ScatterChart>
      </div>
      <T x={723} y={108} size={15} bold rot={-90}>{Y_TITLE}</T>
      <T x={962} y={237} size={16.5} bold>{X_TITLE}</T>
      <T x={793} y={35} size={30} bold>B</T>
      <LegendItem x={805} y={49} color="#111" r={1.3} text={BC_legend[0]} size={11} />
      <LegendItem x={872} y={49} color={GREEN} r={1.5} text={BC_legend[1]} size={11} />
      <LegendItem x={944} y={49} color={PINK_B} r={1.5} text={BC_legend[2]} size={11} />

      {/* Panel C */}
      <div style={{ position: 'absolute', left: 700, top: 260 }}>
        <ScatterChart width={472} height={265} margin={{ top: 15, right: 16, left: 36, bottom: 31 }}>
          <CartesianGrid stroke="#e3e3e3" strokeWidth={1.2} />
          <XAxis type="number" dataKey="x" domain={[0, 0.3]} ticks={C_xTicks} interval={0} height={20}
            axisLine={{ stroke: '#9a9a9a', strokeWidth: 1.2 }} tickLine={false} tickSize={0} tickMargin={11}
            tick={{ fontSize: 12.5, fill: '#555', fontFamily: FONT }} />
          <YAxis type="number" dataKey="y" domain={[0, 0.3]} ticks={C_yTicks} interval={0} width={40}
            axisLine={{ stroke: '#9a9a9a', strokeWidth: 1.2 }} tickLine={false} tickSize={0} tickMargin={11}
            tick={{ fontSize: 12.5, fill: '#555', fontFamily: FONT }} />
          <Scatter data={toPts([...C_12, ...C_12_spread])} shape={dot(1.7, GREEN)} isAnimationActive={false} />
          <Scatter data={toPts([...C_24, ...C_24_spread])} shape={dot(1.7, PINK_C)} isAnimationActive={false} />
        </ScatterChart>
      </div>
      <T x={728} y={375} size={16} bold rot={-90}>{Y_TITLE}</T>
      <T x={966} y={515} size={18} bold>{X_TITLE}</T>
      <T x={803} y={297} size={34} bold>C</T>
      <LegendItem x={831} y={323} color="#111" r={1.3} text={BC_legend[0]} size={12.5} />
      <LegendItem x={881} y={323} color={GREEN} r={1.6} text={BC_legend[1]} size={12.5} />
      <LegendItem x={955} y={323} color={PINK_C} r={1.6} text={BC_legend[2]} size={12.5} />
    </div>
  );
}
